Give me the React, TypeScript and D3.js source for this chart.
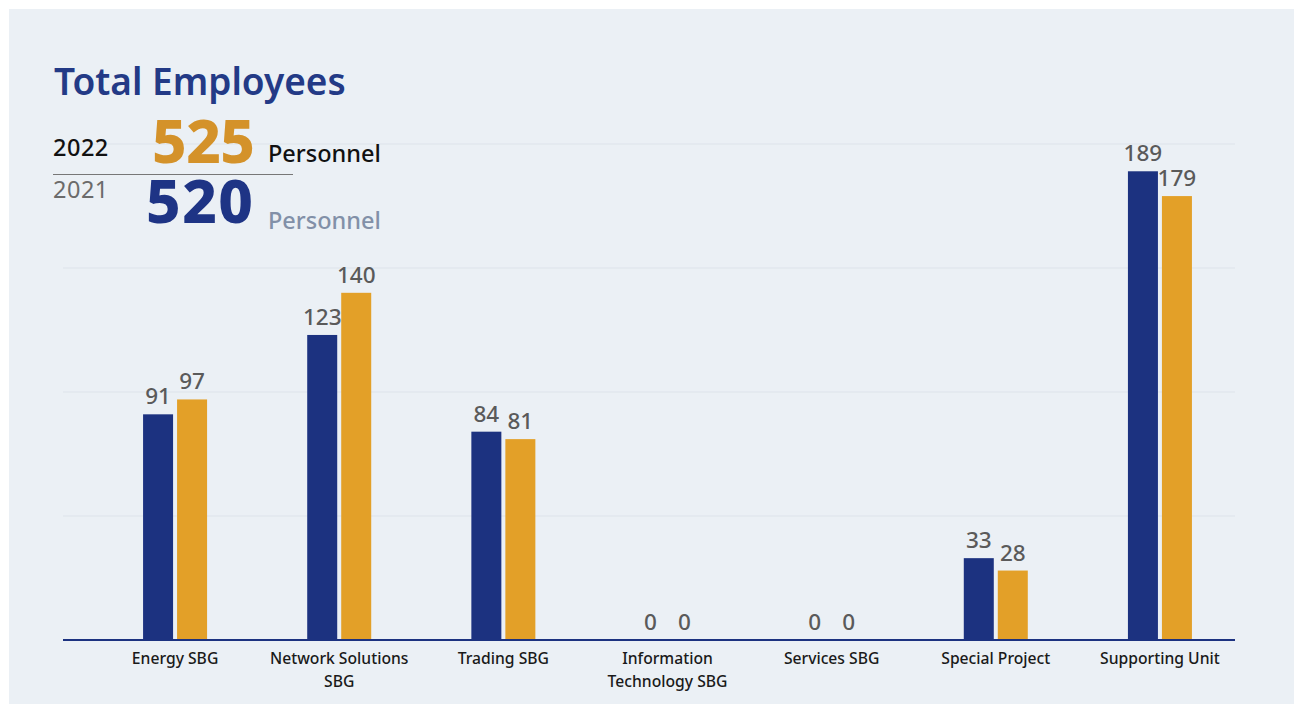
import React from "react";
import * as d3 from "d3";

const categories: string[][] = [
  ["Energy SBG"],
  ["Network Solutions", "SBG"],
  ["Trading SBG"],
  ["Information", "Technology SBG"],
  ["Services SBG"],
  ["Special Project"],
  ["Supporting Unit"],
];
const values2021: number[] = [91, 123, 84, 0, 0, 33, 189];
const values2022: number[] = [97, 140, 81, 0, 0, 28, 179];
const yTicks: number[] = [0, 50, 100, 150, 200];
const total2022 = 525;
const total2021 = 520;

const NAVY = "#1C3280";
const ORANGE = "#E3A028";
const FONT = "'Noto Sans', sans-serif";

export default function App() {
  const W = 1297;
  const H = 704;
  const x = d3
    .scaleBand<number>()
    .domain(d3.range(categories.length))
    .range([93, 1242])
    .paddingInner(0)
    .paddingOuter(0);
  const y = d3.scaleLinear().domain([0, 200]).range([640, 144]);
  const barW = 30;
  const gap = 4;

  return (
    <svg
      width={W}
      height={H}
      style={{ position: "absolute", left: 0, top: 0, fontFamily: FONT }}
    >
      <rect x={0} y={0} width={W} height={H} fill="#ffffff" />
      <rect x={9} y={9} width={1285} height={H} fill="#EBF0F5" />

      {yTicks.slice(1).map((t) => (
        <line
          key={t}
          x1={63}
          x2={1235}
          y1={y(t)}
          y2={y(t)}
          stroke="#DDE3EA"
          strokeWidth={1}
        />
      ))}

      {/* header */}
      <text x={54} y={95} fill="#233A86" fontSize={37} fontWeight={600}>
        Total Employees
      </text>
      <text x={53} y={156} fill="#111" fontSize={23.5} fontWeight={500} letterSpacing={0.5}>
        2022
      </text>
      <text x={152} y={163} fill="#D4922A" fontSize={60} fontWeight={800} letterSpacing={-0.5}>
        {total2022}
      </text>
      <text x={268} y={162} fill="#111" fontSize={23.5} fontWeight={500}>
        Personnel
      </text>
      <line x1={53} x2={293} y1={174.5} y2={174.5} stroke="#777" strokeWidth={1} />
      <text x={53} y={198} fill="#6B6B6B" fontSize={23.5} fontWeight={400} letterSpacing={0.5}>
        2021
      </text>
      <text x={146} y={223} fill="#1E3485" fontSize={60} fontWeight={800} letterSpacing={1.5}>
        {total2021}
      </text>
      <text x={268} y={229} fill="#8290A8" fontSize={23.5} fontWeight={500}>
        Personnel
      </text>

      {categories.map((c, i) => {
        const cx = (x(i) as number) + x.bandwidth() / 2;
        const v1 = values2021[i];
        const v2 = values2022[i];
        const x1 = cx - gap / 2 - barW;
        const x2 = cx + gap / 2;
        return (
          <g key={i}>
            <rect x={x1} y={y(v1)} width={barW} height={y(0) - y(v1)} fill={NAVY} />
            <rect x={x2} y={y(v2)} width={barW} height={y(0) - y(v2)} fill={ORANGE} />
            <text
              x={x1 + barW / 2}
              y={y(v1) - 10}
              textAnchor="middle"
              fontSize={22.5}
              fill="#5A5A5A"
              fontWeight={500}
            >
              {v1}
            </text>
            <text
              x={x2 + barW / 2}
              y={y(v2) - 10}
              textAnchor="middle"
              fontSize={22.5}
              fill="#5A5A5A"
              fontWeight={500}
            >
              {v2}
            </text>
            {c.map((line, j) => (
              <text
                key={j}
                x={cx}
                y={664 + j * 23}
                textAnchor="middle"
                fontSize={15.7}
                fontWeight={500}
                fill="#1A1A1A"
              >
                {line}
              </text>
            ))}
          </g>
        );
      })}

      <line x1={63} x2={1235} y1={640} y2={640} stroke={NAVY} strokeWidth={2} />
    </svg>
  );
}
